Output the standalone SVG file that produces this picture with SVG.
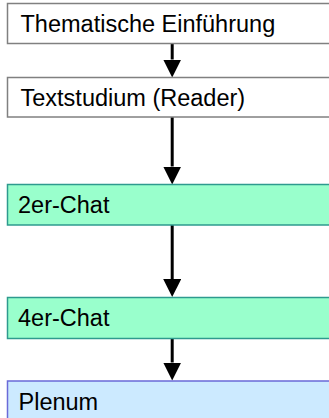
<svg xmlns="http://www.w3.org/2000/svg" width="329" height="418" viewBox="0 0 329 418">
  <style>
    .box { stroke-width: 1.5; }
    .plain { fill: #ffffff; stroke: #808080; }
    .chat { fill: #99ffcc; stroke: #2e9a8e; }
    .plenum { fill: #cceaff; stroke: #6a6ad8; }
    .label { font-family: "Liberation Sans", Arial, sans-serif; font-size: 23.5px; fill: #000000; }
    .flow { stroke: #000000; stroke-width: 3; fill: none; marker-end: url(#head); }
  </style>
  <defs>
    <!-- solid triangular arrowhead; the line stops at its base -->
    <marker id="head" markerUnits="userSpaceOnUse" markerWidth="18" markerHeight="18" viewBox="0 0 18 18" refX="0" refY="9" orient="auto">
      <path d="M0,0 L18,9 L0,18 Z" fill="#000000"/>
    </marker>
  </defs>
  <rect width="329" height="418" fill="#ffffff"/>

  <g id="connectors">
    <line class="flow" x1="172.2" y1="43.5" x2="172.2" y2="59.5"/>
    <line class="flow" x1="172.2" y1="117" x2="172.2" y2="166.5"/>
    <line class="flow" x1="172.2" y1="225" x2="172.2" y2="279"/>
    <line class="flow" x1="172.2" y1="338.5" x2="172.2" y2="362.5"/>
  </g>

  <g id="einfuehrung">
    <rect class="box plain" x="7.5" y="3.5" width="340" height="40"/>
    <text class="label" x="20.5" y="32">Thematische Einführung</text>
  </g>
  <g id="textstudium">
    <rect class="box plain" x="7.5" y="77.5" width="340" height="39.5"/>
    <text class="label" x="20.5" y="105.5">Textstudium (Reader)</text>
  </g>
  <g id="chat2">
    <rect class="box chat" x="7.5" y="184.5" width="340" height="40.5"/>
    <text class="label" x="18" y="213">2er-Chat</text>
  </g>
  <g id="chat4">
    <rect class="box chat" x="7.5" y="297.5" width="340" height="41"/>
    <text class="label" x="18" y="326">4er-Chat</text>
  </g>
  <g id="plenum">
    <rect class="box plenum" x="7.5" y="381" width="340" height="41"/>
    <text class="label" x="18.5" y="409.5">Plenum</text>
  </g>
</svg>
